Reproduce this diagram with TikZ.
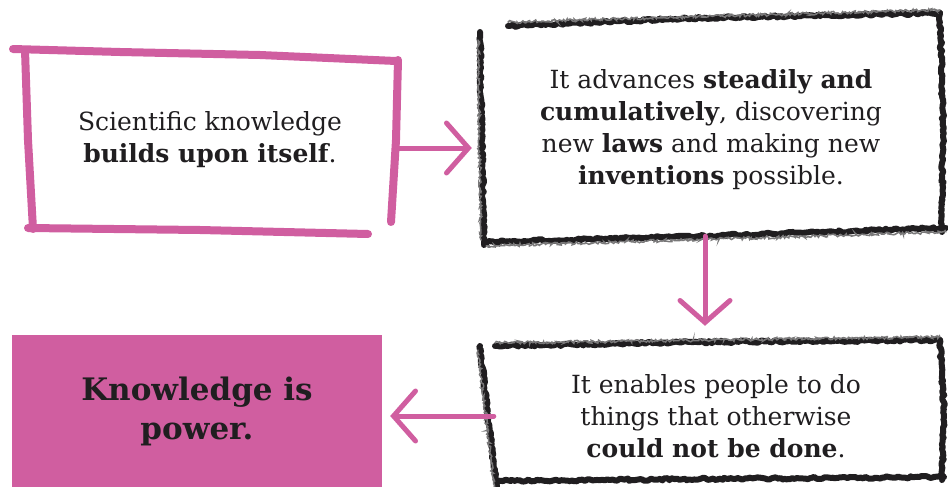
\documentclass[tikz,border=0pt]{standalone}
\usepackage{fontspec}
\setmainfont{DejaVu Serif}
\usetikzlibrary{arrows.meta,decorations.pathmorphing}
\definecolor{pk}{RGB}{208,94,160}
\definecolor{ink}{RGB}{32,30,32}
\begin{document}
\begin{tikzpicture}[x=1pt,y=-1pt,
 txt/.style={align=center,font=\fontsize{25}{32}\selectfont,text=ink,inner sep=0pt},
 pinkline/.style={draw=pk,line width=8pt,line cap=round,line join=round},
 crayon/.style={draw=ink,line width=6pt,line cap=round,line join=round,decorate,decoration={random steps,segment length=2.5pt,amplitude=1.2pt}},
 crayonlite/.style={draw=ink!60,line width=1.5pt,line cap=round,decorate,decoration={random steps,segment length=1.5pt,amplitude=1.5pt}},
 flow/.style={draw=pk,line width=5pt,line cap=round,-{Straight Barb[length=22pt,width=50pt,line cap=round]}}]
\fill[white] (0,0) rectangle (948,487);
\useasboundingbox (0,0) rectangle (948,487);
% nodes
\node[txt,minimum width=372,minimum height=178] (b1) at (210,140) {Scientific knowledge\\\textbf{builds upon itself}.};
\node[txt,minimum width=456,minimum height=212] (b2) at (711,130) {It advances \textbf{steadily and}\\\textbf{cumulatively}, discovering\\new \textbf{laws} and making new\\\textbf{inventions} possible.};
\node[txt,minimum width=452,minimum height=140] (b3) at (716,416) {It enables people to do\\things that otherwise\\\textbf{could not be done}.};
\node[txt,fill=pk,minimum width=370,minimum height=152,font=\fontsize{31}{39}\selectfont\bfseries] (b4) at (197,411) {Knowledge is\\power.};
% pink hand-drawn box
\draw[pinkline] (13,49) -- (120,52) -- (260,55) -- (396,61);
\draw[pinkline] (398,60) -- (396,140) -- (391,222);
\draw[pinkline] (25,50) -- (28,140) -- (33,229);
\draw[pinkline] (28,228) -- (200,230) -- (368,234);
% crayon box 2
\draw[crayon] (508,26) -- (700,18) -- (940,13);
\draw[crayon] (940,13) -- (943,120) -- (942,232);
\draw[crayon] (480,32) -- (482,140) -- (484,245);
\draw[crayon] (484,242) -- (700,236) -- (946,228);
\draw[crayonlite] (508,22) -- (940,10);
\draw[crayonlite] (486,246) -- (946,232);
\draw[crayonlite] (478,40) -- (481,240);
% crayon box 3
\draw[crayon] (495,346) -- (700,342) -- (940,340);
\draw[crayon] (940,340) -- (944,410) -- (942,480);
\draw[crayon] (480,346) -- (488,420) -- (497,487);
\draw[crayon] (497,481) -- (700,479) -- (944,477);
\draw[crayonlite] (495,343) -- (940,337);
\draw[crayonlite] (478,350) -- (494,487);
% arrows
\draw[flow] ([yshift=-8pt]b1.east) -- ([yshift=-18pt,xshift=-11pt]b2.west);
\draw[flow] ([xshift=-6pt]b2.south) -- ([xshift=-11pt,yshift=20pt]b3.north);
\draw[flow] ([xshift=4pt]b3.west) -- ([xshift=8pt,yshift=-5pt]b4.east);
\end{tikzpicture}
\end{document}
